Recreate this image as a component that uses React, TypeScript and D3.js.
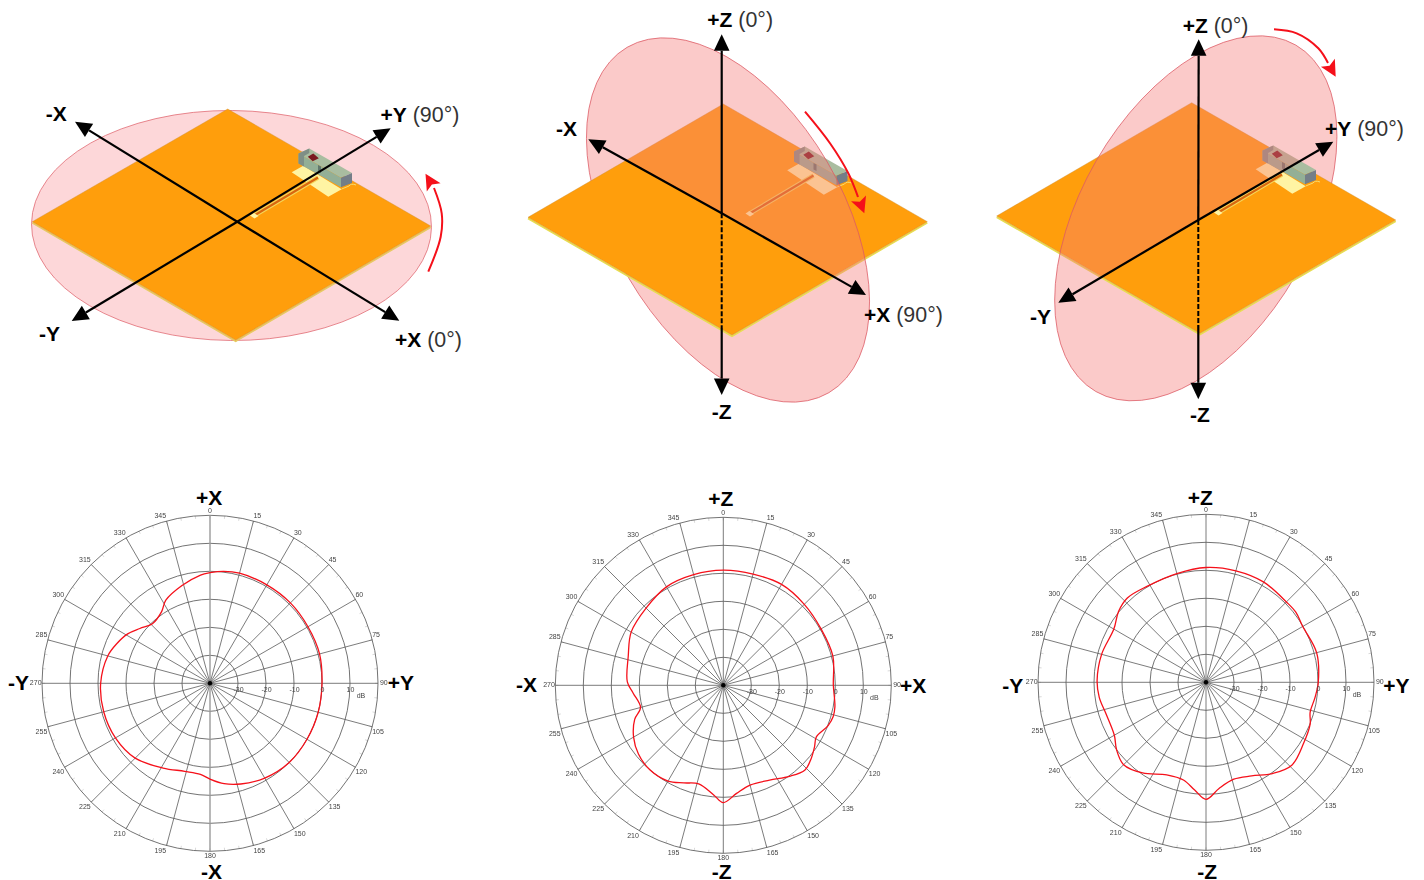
import React from 'react'
import * as d3 from 'd3'

type Pt = [number, number]

// gain patterns: bearing in degrees, gain in dB
const xyAngles = [0, 7, 15, 30, 45, 60, 75, 90, 105, 120, 135, 150, 163, 172, 180, 186, 196, 209, 225, 240, 255, 270, 285, 293, 301, 308, 316, 326, 332, 344, 355]
const xyGain = [-0.5, 0.3, 0.7, 0.6, 0.6, 0.4, 0.5, 0, 0, 0, 0, -0.9, -2.4, -3.8, -5.8, -7.3, -7.3, -5.4, -2.2, -1, -0.7, -0.95, -2.2, -3.8, -5.7, -8.2, -10.4, -9.1, -6.4, -3.7, -1.2]

const xzAngles = [0, 15, 30, 45, 60, 75, 90, 101, 106, 111, 119, 124, 130, 136, 144, 154, 165, 173, 180, 185, 194, 202, 210, 221, 231, 240, 249, 255, 265, 272, 287, 300, 315, 330, 345]
const xzGain = [1.1, 1.1, 1.6, 0.9, 0.3, 0.5, -0.7, 0.6, 0.8, 0.1, -2, -0.7, 0.9, 2, 0.2, -2.3, -3.1, -1.1, 1.9, -0.7, -3.7, -2.4, -0.5, 0, -1, -3, -6.1, -9.4, -7.7, -5.7, -4.5, -2, -1, 0.6, 0.9]

const yzAngles = [0, 15, 30, 45, 52, 60, 75, 90, 98, 106, 112, 122, 134, 144, 154, 164, 173, 180, 186, 193, 203, 215, 225, 233, 240, 252, 262, 271, 285, 300, 309, 317, 329, 345]
const yzGain = [1, 1.2, 1.3, 0.6, 0.7, -0.1, 0.9, 0.1, -0.7, -1.3, 0.1, 1.1, 2.6, 0.3, -2.8, -4, -1.8, 1.8, -1.3, -4.2, -4.1, -0.5, 1.6, 0, -2.2, -2.6, -1.5, -1.1, -1.4, -2, 0.2, 1.2, 0.2, 0.2]

const dbTicks = [-30, -20, -10, 0, 10, 20]
const dbLabels = [-30, -20, -10, 0, 10]
const bearingTicks = d3.range(0, 360, 15)
const minorTicks = d3.range(0, 360, 5)

const red = '#f5101a'
const polarFont = '"Liberation Sans", Arial, sans-serif'

const rScale = d3.scaleLinear().domain([-40, 20]).range([0, 168])
const toRad = (deg: number) => (deg * Math.PI) / 180

// the plot program puts its bearing labels beside the spoke end, not on the spoke
const bearingLabelX = (a: number) => {
  const tip = Math.sin(toRad(a)) * rScale(20)
  if (a === 0 || a === 180) return tip
  if (a < 90) return tip + 3.8
  if (a < 180) return tip + 5.8
  return tip - 6.3
}
const bearingLabelY = (a: number) => {
  const tip = -Math.cos(toRad(a)) * rScale(20)
  if (a === 90 || a === 270) return tip + 1.8
  return a < 90 || a > 270 ? tip - 2.7 : tip + 7
}

const PolarChart: React.FC<{
  cx: number
  cy: number
  angles: number[]
  gains: number[]
  wideVertical?: boolean
}> = ({ cx, cy, angles, gains, wideVertical }) => {
  const pattern = d3
    .lineRadial<number>()
    .angle((a) => toRad(a))
    .radius((_, i) => rScale(gains[i]))
    .curve(d3.curveCatmullRomClosed.alpha(0.5))
  const outer = rScale(20)

  return (
    <g transform={`translate(${cx},${cy})`}>
      {minorTicks.map((a) => (
        <line
          key={a}
          x1={Math.sin(toRad(a)) * (outer - 3)}
          y1={-Math.cos(toRad(a)) * (outer - 3)}
          x2={Math.sin(toRad(a)) * outer}
          y2={-Math.cos(toRad(a)) * outer}
          stroke="#c8c8c8"
          strokeWidth={0.7}
        />
      ))}
      {dbTicks.map((d) => (
        <circle key={d} r={rScale(d)} fill="none" stroke="#5a5a5a" strokeWidth={0.85} />
      ))}
      {bearingTicks.map((a) => {
        const wide = wideVertical && a % 180 === 0
        return (
          <line
            key={a}
            x1={0}
            y1={0}
            x2={Math.sin(toRad(a)) * outer}
            y2={-Math.cos(toRad(a)) * outer}
            stroke={wide ? '#9a9a9a' : '#5a5a5a'}
            strokeWidth={wide ? 1.4 : 0.8}
          />
        )
      })}
      <circle r={2.2} fill="#000" />
      <path d={pattern(angles) ?? ''} fill="none" stroke={red} strokeWidth={1.3} />
      {/* the filter keeps this tiny text grey instead of colour fringed */}
      <g fontFamily={polarFont} fontSize={7} fill="#444" textAnchor="middle" style={{ filter: 'grayscale(1)' }}>
        {bearingTicks.map((a) => (
          <text key={a} x={bearingLabelX(a)} y={bearingLabelY(a)}>
            {a}
          </text>
        ))}
        {dbLabels.map((d) => (
          <text key={d} x={rScale(d) + 0.5} y={8.5}>
            {d}
          </text>
        ))}
        <text x={151} y={15}>
          dB
        </text>
      </g>
    </g>
  )
}

const Label: React.FC<{ x: number; y: number; axis: string; note?: string }> = ({ x, y, axis, note }) => (
  <text x={x} y={y} fontFamily={polarFont} fontSize={21} fill="#000">
    <tspan fontWeight="bold">{axis}</tspan>
    {note ? <tspan fill="#333" fontSize={21.4}>{` ${note}`}</tspan> : null}
  </text>
)

const poly = (pts: Pt[]) => pts.map((p) => p.join(',')).join(' ')

// filled arrow head, tip at `tip`, pointing away from `from`
const headPoints = (tip: Pt, from: Pt, len: number, half: number, notch = 0): Pt[] => {
  const dx = tip[0] - from[0]
  const dy = tip[1] - from[1]
  const n = Math.hypot(dx, dy)
  const ux = dx / n
  const uy = dy / n
  const bx = tip[0] - ux * len
  const by = tip[1] - uy * len
  return [
    tip,
    [bx - uy * half, by + ux * half],
    [tip[0] - ux * (len - notch), tip[1] - uy * (len - notch)],
    [bx + uy * half, by - ux * half],
  ]
}

const AxisArrow: React.FC<{ from: Pt; tip: Pt }> = ({ from, tip }) => {
  const head = headPoints(tip, from, 16.5, 7.8)
  return (
    <g>
      <line x1={from[0]} y1={from[1]} x2={head[2][0]} y2={head[2][1]} stroke="#000" strokeWidth={2.2} />
      <polygon points={poly(head)} fill="#000" />
    </g>
  )
}

const curvedLine = d3.line<Pt>().curve(d3.curveCatmullRom.alpha(0.5))

const RedArrow: React.FC<{ pts: Pt[]; tip: Pt }> = ({ pts, tip }) => (
  <g>
    <path d={curvedLine(pts) ?? ''} fill="none" stroke={red} strokeWidth={2} />
    <polygon points={poly(headPoints(tip, pts[pts.length - 1], 16, 8, 3.5))} fill={red} />
  </g>
)

// the small module on the plate, in the coordinates of the first view
const Device: React.FC<{ dx: number; dy: number }> = ({ dx, dy }) => (
  <g transform={`translate(${dx},${dy})`}>
    <polygon points="291.7,172.3 303.3,165.7 341.7,189.3 328.3,196.7" fill="#fff4a3" />
    <path d="M341.7,189 L349,186 Q351,183 356,185" fill="none" stroke="#f7dc70" strokeWidth={1} />
    <line x1={253.3} y1={216} x2={318} y2={177.5} stroke="#f5d75a" strokeWidth={4.4} />
    <line x1={255} y1={215} x2={318} y2={177.5} stroke="#d9660f" strokeWidth={2.2} />
    <polygon points="250,215.5 254,213 258.5,216 254.5,218.5" fill="#fff4a3" />
    <polygon points="298.5,153.5 309.3,148.5 352,173 341,177.8" fill="#a9bda0" />
    <polygon points="298.5,153.5 341,177.8 341,187.2 298.5,163.5" fill="#93af96" />
    <polygon points="341,177.8 352,173 352,183 341,187.2" fill="#747e88" />
    <polygon points="298.5,153.5 309.3,148.5 309.3,153 304,156 304,166.5 298.5,163.5" fill="#7f8f86" />
    <polygon points="318,165 321,166.5 321,173 318,171.5" fill="#60766c" />
    <polygon points="307.8,156.7 313.3,153.6 318.8,158.3 312.7,161.2" fill="#7a1a20" />
  </g>
)

const plateFill = '#ff9e0c'

const Plate: React.FC<{ top: Pt; right: Pt; bottom: Pt; left: Pt; edge: string }> = ({ top, right, bottom, left, edge }) => (
  <g>
    <polyline
      points={poly([left, bottom, right].map((p) => [p[0], p[1] + 1.1] as Pt))}
      fill="none"
      stroke={edge}
      strokeWidth={1.8}
    />
    <polygon points={poly([top, right, bottom, left])} fill={plateFill} stroke="#c98a30" strokeWidth={0.4} />
  </g>
)

const Ellipse: React.FC<{ cx: number; cy: number; angle: number; fill: string; opacity?: number; clip?: string }> = ({
  cx,
  cy,
  angle,
  fill,
  opacity,
  clip,
}) => (
  <g clipPath={clip ? `url(#${clip})` : undefined}>
    <ellipse
      cx={cx}
      cy={cy}
      rx={200}
      ry={115}
      transform={`rotate(${angle} ${cx} ${cy})`}
      fill={fill}
      fillOpacity={opacity ?? 1}
      stroke="#dc5a64"
      strokeWidth={0.7}
    />
  </g>
)

// half plane on one side of the line a-b, used to split a disc into its back and front part
const halfPlane = (a: Pt, b: Pt, side: number): string => {
  const dx = b[0] - a[0]
  const dy = b[1] - a[1]
  const n = Math.hypot(dx, dy)
  const ux = dx / n
  const uy = dy / n
  const far = 1500
  const p1: Pt = [a[0] - ux * far, a[1] - uy * far]
  const p2: Pt = [a[0] + ux * far, a[1] + uy * far]
  const nx = -uy * side * far
  const ny = ux * side * far
  return poly([p1, p2, [p2[0] + nx, p2[1] + ny], [p1[0] + nx, p1[1] + ny]])
}

const VerticalView: React.FC<{
  id: string
  ellipse: { cx: number; cy: number; angle: number }
  plate: { top: Pt; right: Pt; bottom: Pt; left: Pt }
  device: Pt
  center: Pt
  up: Pt
  down: Pt
  dashEnd: Pt
  neg: Pt
  pos: Pt
  arrow: Pt[]
  arrowTip: Pt
}> = ({ id, ellipse, plate, device, center, up, down, dashEnd, neg, pos, arrow, arrowTip }) => (
  <g>
    <defs>
      <clipPath id={`${id}-back`}>
        <polygon points={halfPlane(neg, pos, -1)} />
      </clipPath>
      <clipPath id={`${id}-front`}>
        <polygon points={halfPlane(neg, pos, 1)} />
      </clipPath>
    </defs>
    <Ellipse {...ellipse} fill="#f57b78" opacity={0.4} clip={`${id}-front`} />
    <Plate {...plate} edge="#e8dc50" />
    <Device dx={device[0]} dy={device[1]} />
    <Ellipse {...ellipse} fill="#f57b78" opacity={0.4} clip={`${id}-back`} />
    <AxisArrow from={center} tip={up} />
    <AxisArrow from={dashEnd} tip={down} />
    <line x1={center[0]} y1={center[1]} x2={dashEnd[0]} y2={dashEnd[1]} stroke="#000" strokeWidth={2} strokeDasharray="5 2" />
    <AxisArrow from={center} tip={neg} />
    <AxisArrow from={center} tip={pos} />
    <RedArrow pts={arrow} tip={arrowTip} />
  </g>
)

export default function App() {
  return (
    <svg width={1424} height={880} style={{ position: 'absolute', left: 0, top: 0, background: '#fff' }}>
      {/* horizontal cut */}
      <g>
        <Ellipse cx={231.5} cy={225.5} angle={0.5} fill="#fdd7d9" />
        <Plate top={[227.7, 109]} right={[430.7, 226]} bottom={[235.7, 340]} left={[32.3, 221.7]} edge="#e8c860" />
        <Device dx={0} dy={0} />
        <AxisArrow from={[237.3, 221.7]} tip={[75, 121.7]} />
        <AxisArrow from={[237.3, 221.7]} tip={[399.3, 320.7]} />
        <AxisArrow from={[237.3, 221.7]} tip={[390.7, 128.3]} />
        <AxisArrow from={[237.3, 221.7]} tip={[71.7, 321]} />
        <RedArrow pts={[[428.3, 271.7], [440.7, 236.7], [441.7, 213.3], [434, 188]]} tip={[425.5, 173.7]} />
      </g>
      <Label x={45.7} y={121} axis="-X" />
      <Label x={380.5} y={122} axis="+Y" note="(90°)" />
      <Label x={39} y={341} axis="-Y" />
      <Label x={395} y={347} axis="+X" note="(0°)" />

      <VerticalView
        id="xz"
        ellipse={{ cx: 728, cy: 220, angle: 59.7 }}
        plate={{ top: [723.3, 104], right: [927.3, 221.7], bottom: [732, 335], left: [528, 217.3] }}
        device={[495.5, -2]}
        center={[721.7, 213.3]}
        up={[721.7, 34.3]}
        down={[721.7, 395]}
        dashEnd={[721.7, 328]}
        neg={[588.3, 139.3]}
        pos={[866, 295]}
        arrow={[[805, 111.7], [830, 143.3], [848.3, 173.3], [858, 197]]}
        arrowTip={[864.3, 213.3]}
      />
      <Label x={707.3} y={27} axis="+Z" note="(0°)" />
      <Label x={556} y={136} axis="-X" />
      <Label x={864} y={322} axis="+X" note="(90°)" />
      <Label x={711.7} y={419} axis="-Z" />

      <VerticalView
        id="yz"
        ellipse={{ cx: 1195.8, cy: 218.3, angle: -60 }}
        plate={{ top: [1191.7, 102.7], right: [1395.7, 220], bottom: [1200, 333.3], left: [996.7, 216] }}
        device={[964, -3]}
        center={[1198.3, 220]}
        up={[1198.7, 39.3]}
        down={[1198.3, 399.3]}
        dashEnd={[1198.3, 325]}
        neg={[1058.3, 302.7]}
        pos={[1333.3, 141.7]}
        arrow={[[1274, 29.3], [1296.7, 33.3], [1318.3, 48.3], [1328, 63]]}
        arrowTip={[1335.7, 76.7]}
      />
      <Label x={1182.7} y={33} axis="+Z" note="(0°)" />
      <Label x={1325} y={136} axis="+Y" note="(90°)" />
      <Label x={1030} y={324} axis="-Y" />
      <Label x={1190} y={422} axis="-Z" />

      <PolarChart cx={210} cy={683.3} angles={xyAngles} gains={xyGain} wideVertical />
      <Label x={196} y={505} axis="+X" />
      <Label x={201} y={878.5} axis="-X" />
      <Label x={8} y={690} axis="-Y" />
      <Label x={387.7} y={690} axis="+Y" />

      <PolarChart cx={723.3} cy={685.3} angles={xzAngles} gains={xzGain} />
      <Label x={708.3} y={506} axis="+Z" />
      <Label x={711.7} y={878.5} axis="-Z" />
      <Label x={516} y={692} axis="-X" />
      <Label x={900} y={693} axis="+X" />

      <PolarChart cx={1206} cy={682.3} angles={yzAngles} gains={yzGain} />
      <Label x={1187.7} y={505} axis="+Z" />
      <Label x={1197.3} y={878.5} axis="-Z" />
      <Label x={1002.3} y={692.7} axis="-Y" />
      <Label x={1383.3} y={692.7} axis="+Y" />
    </svg>
  )
}
